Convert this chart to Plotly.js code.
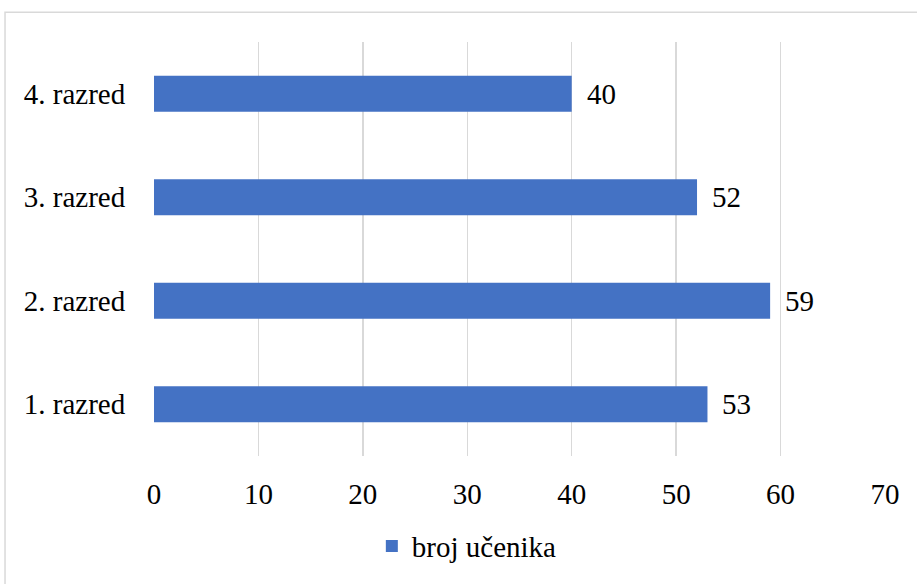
<!DOCTYPE html>
<html>
<head>
<meta charset="utf-8">
<script src="https://cdn.plot.ly/plotly-3.0.1.min.js"></script>
<style>html,body{margin:0;padding:0;background:#fff;} #chart{width:917px;height:584px;}</style>
</head>
<body>
<div id="chart"></div>
<script>
const categories = ["1. razred", "2. razred", "3. razred", "4. razred"];
const values = [53, 59, 52, 40];
const seriesName = "broj učenika";
const xTicks = [0, 10, 20, 30, 40, 50, 60, 70];

const font = {family: "Liberation Serif", size: 29, color: "#000"};

const trace = {
  type: "bar",
  orientation: "h",
  x: values,
  y: categories,
  name: seriesName,
  width: 0.35,
  marker: {color: "#4472C4"},
  showlegend: true,
  hoverinfo: "none"
};

const annotations = values.map((v, i) => ({
  x: v, y: categories[i], xref: "x", yref: "y",
  text: String(v), showarrow: false,
  xanchor: "left", yanchor: "middle", xshift: 13,
  font: font
}));

const layout = {
  width: 917, height: 584,
  margin: {l: 154, r: 32, t: 42, b: 124},
  paper_bgcolor: "#fff", plot_bgcolor: "#fff",
  font: font,
  xaxis: {
    range: [0, 70], tickvals: xTicks, ticktext: xTicks.map(String),
    showgrid: true, gridcolor: "#d9d9d9", gridwidth: 1.5,
    zeroline: false, showline: false,
    ticks: "outside", ticklen: 12, tickcolor: "rgba(0,0,0,0)",
    tickfont: font, fixedrange: true
  },
  yaxis: {
    categoryorder: "array", categoryarray: categories,
    range: [-0.5, 3.5],
    showgrid: false, zeroline: false, showline: false,
    ticks: "outside", ticklen: 22, tickcolor: "rgba(0,0,0,0)",
    tickfont: font, fixedrange: true
  },
  showlegend: true,
  legend: {
    orientation: "h", x: 0.298, xanchor: "left", y: -0.218, yanchor: "middle",
    font: font, bgcolor: "rgba(0,0,0,0)"
  },
  annotations: annotations,
  shapes: [{
    type: "rect", xref: "paper", yref: "paper",
    x0: -0.2038, x1: 1.5, y0: -0.6, y1: 1.0718,
    line: {color: "#d9d9d9", width: 1.5}, fillcolor: "rgba(0,0,0,0)", layer: "below"
  }]
};

Plotly.newPlot("chart", [trace], layout, {displayModeBar: false, staticPlot: true});
</script>
</body>
</html>
